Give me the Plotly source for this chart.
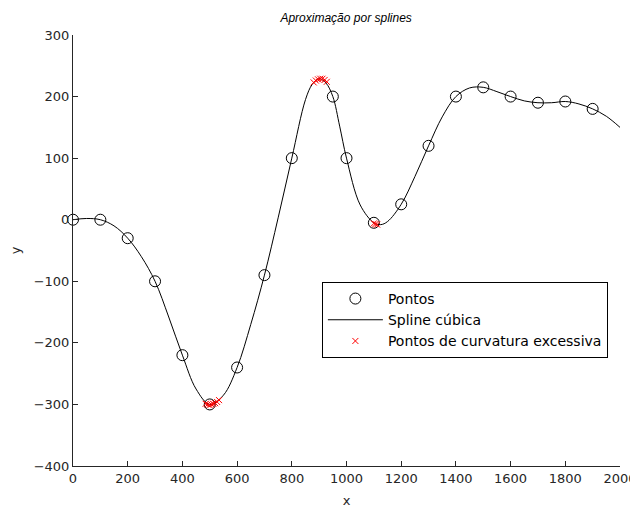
import plotly.graph_objects as go

# Data points (circles)
pts_x = [0, 100, 200, 300, 400, 500, 600, 700, 800, 950, 1000, 1100, 1200, 1300, 1400, 1500, 1600, 1700, 1800, 1900]
pts_y = [0, 0, -30, -100, -220, -300, -240, -90, 100, 200, 100, -5, 25, 120, 200, 215, 200, 190, 192, 180]

# Cubic spline curve values
curve_x = [0, 50, 100, 150, 200, 250, 300, 350, 400, 450, 500, 550, 600, 650, 700, 750, 800,
           850, 875, 900, 925, 950, 975, 1000, 1050, 1100, 1125, 1150, 1200, 1250, 1300, 1350,
           1400, 1450, 1500, 1550, 1600, 1650, 1700, 1750, 1800, 1850, 1900, 1950, 2000]
curve_y = [0, 2, 0, -10, -30, -60, -100, -158, -220, -275, -300, -285, -240, -170, -90, 3, 100,
           195, 220, 229, 222, 200, 152, 100, 24, -5, -8, -3, 25, 70, 120, 167,
           200, 214, 215, 208, 200, 193, 190, 190, 192, 188, 180, 168, 150]

# Points of excessive curvature (red x)
curv_x = [485, 492, 499, 506, 513, 520, 527, 534, 880, 888, 896, 904, 912, 920, 928, 1100, 1106, 1112]
curv_y = [-299, -300, -301, -300, -299, -298, -296, -293, 223, 226, 228, 229, 229, 227, 224, -6, -7, -8]

FONT = "DejaVu Sans, Liberation Sans, sans-serif"
TFONT = "Liberation Sans, Arial, sans-serif"

fig = go.Figure()
fig.add_trace(go.Scatter(
    x=pts_x, y=pts_y, mode="markers", name="Pontos",
    marker=dict(symbol="circle-open", size=11, color="black", line=dict(width=1, color="black")),
    cliponaxis=False,
))
fig.add_trace(go.Scatter(
    x=curve_x, y=curve_y, mode="lines", name="Spline cúbica",
    line=dict(color="black", width=1, shape="spline", smoothing=1.0),
))
fig.add_trace(go.Scatter(
    x=curv_x, y=curv_y, mode="markers", name="Pontos de curvatura excessiva",
    marker=dict(symbol="x-thin-open", size=6, color="red", line=dict(width=1, color="red")),
    cliponaxis=False,
))

fig.update_layout(
    width=638, height=510,
    margin=dict(l=65, r=26, t=27, b=52),
    paper_bgcolor="white", plot_bgcolor="white",
    font=dict(family=FONT, size=12, color="black"),
    title=dict(text="<i>Aproximação por splines</i>", x=0.53, xanchor="center",
               y=0.99, yanchor="top", font=dict(family=TFONT, size=12, color="black")),
    showlegend=True,
    legend=dict(x=0.455, y=0.427, xanchor="left", yanchor="top",
                bordercolor="black", borderwidth=1, bgcolor="white",
                font=dict(family=FONT, size=14, color="black"),
                tracegroupgap=0, itemwidth=55),
)
fig.update_xaxes(
    range=[0, 2000], tickvals=[0, 200, 400, 600, 800, 1000, 1200, 1400, 1600, 1800, 2000],
    showgrid=False, zeroline=False, showline=True, linecolor="#262626", linewidth=1,
    ticks="inside", ticklen=5, tickcolor="#262626", mirror=False, automargin=False,
    tickfont=dict(family=FONT, size=13, color="#262626"),
    title=dict(text="x", font=dict(family=FONT, size=13, color="#262626"), standoff=11),
)
fig.update_yaxes(
    range=[-400, 300], tickvals=[-400, -300, -200, -100, 0, 100, 200, 300],
    showgrid=False, zeroline=False, showline=True, linecolor="#262626", linewidth=1,
    ticks="inside", ticklen=5, tickcolor="#262626", mirror=False, automargin=False,
    tickfont=dict(family=FONT, size=13, color="#262626"),
    title=dict(text="y", font=dict(family=FONT, size=13, color="#262626"), standoff=10),
)

fig.write_html("out.html")
